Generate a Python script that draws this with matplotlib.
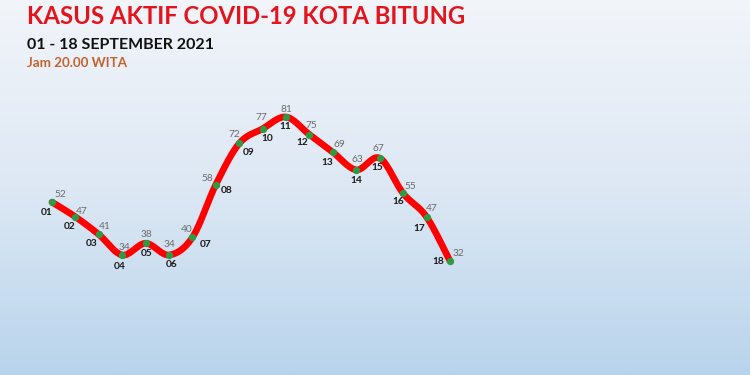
import numpy as np
import matplotlib
import matplotlib.pyplot as plt
from matplotlib.colors import LinearSegmentedColormap
matplotlib.use('Agg')

days = ['01', '02', '03', '04', '05', '06', '07', '08', '09',
        '10', '11', '12', '13', '14', '15', '16', '17', '18']
cases = [52, 47, 41, 34, 38, 34, 40, 58, 72, 77, 81, 75, 69, 63, 67, 55, 47, 32]

# label offsets in pixels: value label (dx, dy), day label (dx, dy)
val_off = [(8, 8), (6, 5), (6, 8), (2, 8), (1, 9), (0, 11), (-6, 8), (-8, 6),
           (-5, 9), (-1, 11), (0, 8), (2, 9), (6, 8), (1, 10), (-1, 10), (7, 7),
           (5, 8), (9, 7)]
day_off = [(-5, -10), (-6, -10), (-7, -9), (-3, -11), (1, -10), (3, -9), (13, -7), (11, -6),
           (9, -9), (5, -10), (-1, -9), (-7, -8), (-6, -10), (0, -11), (-2, -9), (-5, -8),
           (-7, -12), (-12, -1)]


def cardinal_spline(x, y, tension=0.5, n=20):
    # smooth curve through the points, like Excel's smoothed line
    px = np.concatenate([[x[0]], x, [x[-1]]])
    py = np.concatenate([[y[0]], y, [y[-1]]])
    xs, ys = [], []
    t = np.linspace(0, 1, n)
    for i in range(1, len(px) - 2):
        m1x = tension * (px[i + 1] - px[i - 1])
        m1y = tension * (py[i + 1] - py[i - 1])
        m2x = tension * (px[i + 2] - px[i])
        m2y = tension * (py[i + 2] - py[i])
        h00 = 2 * t**3 - 3 * t**2 + 1
        h10 = t**3 - 2 * t**2 + t
        h01 = -2 * t**3 + 3 * t**2
        h11 = t**3 - t**2
        xs.append(h00 * px[i] + h10 * m1x + h01 * px[i + 1] + h11 * m2x)
        ys.append(h00 * py[i] + h10 * m1y + h01 * py[i + 1] + h11 * m2y)
    return np.concatenate(xs), np.concatenate(ys)


x = np.arange(1, len(cases) + 1)
y = np.array(cases, dtype=float)

fig = plt.figure(figsize=(7.5, 3.75), dpi=100)

# background gradient
bg = fig.add_axes([0, 0, 1, 1])
cmap = LinearSegmentedColormap.from_list('bg', ['#f2f5fa', '#dde8f4', '#b8d4ec'])
bg.imshow(np.linspace(0, 1, 256).reshape(-1, 1), aspect='auto', cmap=cmap,
          extent=[0, 1, 0, 1])
bg.axis('off')

ax = fig.add_axes([0, 0, 1, 1])
ax.set_facecolor('none')
ax.set_xlim(-1.221, 30.82)
ax.set_ylim(-6.87, 120.85)
ax.axis('off')

sx, sy = cardinal_spline(x.astype(float), y)
ax.plot(sx, sy, color='#ff0000', lw=4.8, solid_capstyle='round', zorder=2)
ax.scatter(x, y, s=18, color='#2f9a45', zorder=3)

for i in range(len(cases)):
    ax.annotate(str(cases[i]), (x[i], y[i]), xytext=val_off[i], textcoords='offset pixels',
                ha='center', va='center', fontsize=7.3, color='#6b6b6b', family='Lato')
    ax.annotate(days[i], (x[i], y[i]), xytext=day_off[i], textcoords='offset pixels',
                ha='center', va='center', fontsize=7.3, color='#1a1a1a',
                fontweight='bold', family='Lato')

fig.text(0.036, 0.955, 'KASUS AKTIF COVID-19 KOTA BITUNG', fontsize=17.2,
         fontweight='bold', color='#e3141b', family='Lato', va='center', ha='left')
fig.text(0.036, 0.88, '01 - 18 SEPTEMBER 2021', fontsize=11.5, fontweight='bold',
         color='#111111', family='Lato', va='center', ha='left')
fig.text(0.036, 0.832, 'Jam 20.00 WITA', fontsize=9.6, fontweight='bold',
         color='#c5612a', family='Lato', va='center', ha='left')

fig.savefig('out.png', dpi=100)
